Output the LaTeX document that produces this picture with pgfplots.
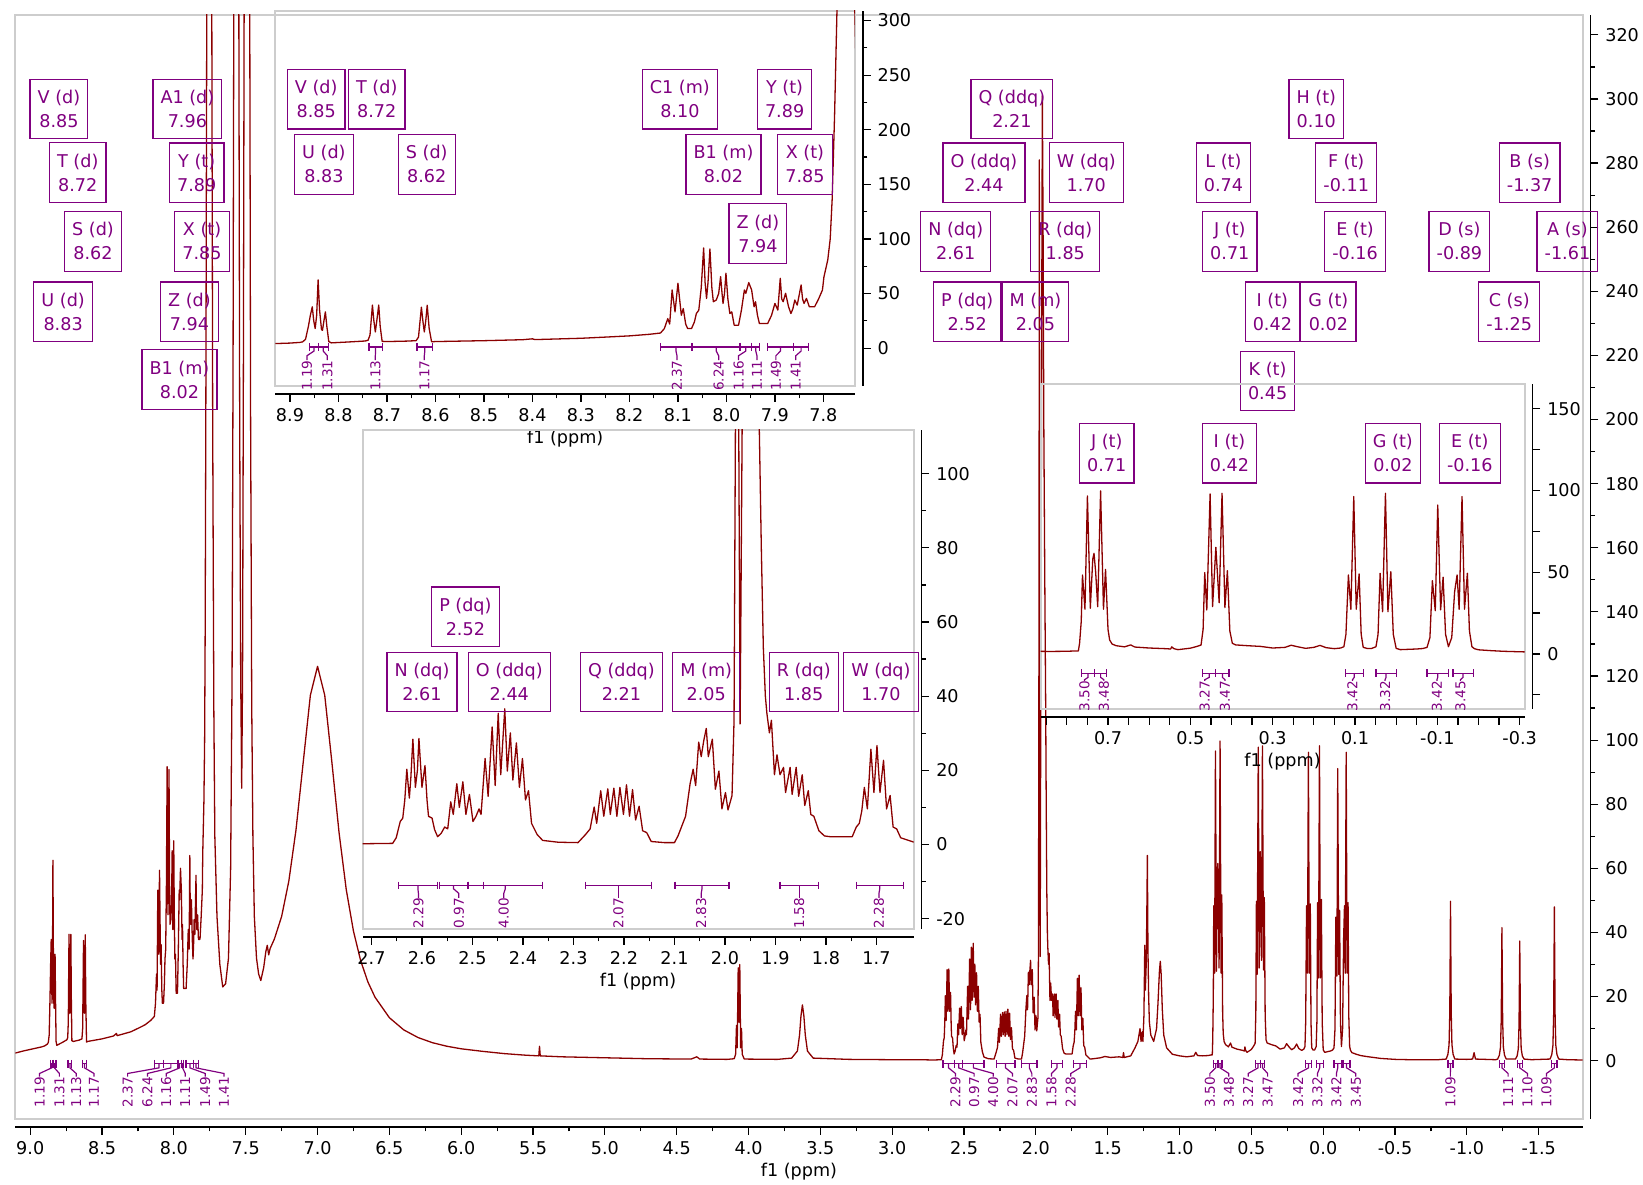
\documentclass[border=0pt]{standalone}
\usepackage{fontspec}
\setmainfont{DejaVu Sans}
\usepackage{pgfplots}
\usepackage{pgfplotstable}
\pgfplotsset{compat=1.18}
\definecolor{specred}{RGB}{139,0,0}
\definecolor{lblpurple}{RGB}{128,0,128}
\definecolor{framegray}{RGB}{205,205,205}

\pgfplotstableread{
x y
9.11 2.3
9.05 3.0
9.00 3.5
8.95 4.0
8.92 4.3
8.90 4.6
8.88 5.2
8.874 5.7
8.868 8
8.862 20
8.858 30
8.854 37.8
8.851 25
8.848 17.9
8.845 30
8.842 62.5
8.839 35
8.835 17
8.833 16.3
8.830 25
8.827 33.2
8.824 20
8.820 6
8.815 4.8
8.78 5.6
8.745 6.5
8.739 7.2
8.735 12
8.730 39.4
8.727 25
8.724 14.8
8.721 25
8.717 39.4
8.714 20
8.710 6.2
8.70 6.0
8.66 6.4
8.64 6.8
8.635 10
8.629 37.5
8.626 25
8.623 14.8
8.620 25
8.617 39.3
8.613 18
8.608 5.8
8.60 6.0
8.50 6.8
8.42 7.7
8.40 8.5
8.395 7.8
8.30 9.0
8.244 10.2
8.20 11.2
8.16 12.6
8.136 13.8
8.128 17.9
8.121 27
8.117 22
8.112 53.2
8.106 33.2
8.100 59.4
8.093 30.1
8.089 36.2
8.084 22
8.080 17.9
8.072 17.9
8.066 24
8.062 31.7
8.057 34.7
8.052 55
8.047 91.7
8.044 60
8.041 45.5
8.038 60
8.034 90.8
8.030 55
8.027 42.5
8.021 44.0
8.016 50
8.012 65.5
8.009 50
8.007 40.9
8.004 50
8.001 68.6
7.997 45
7.993 31.7
7.989 33.2
7.984 21.0
7.975 21.0
7.969 35
7.963 53.2
7.960 50.2
7.954 60
7.948 53.2
7.943 37.8
7.940 42.5
7.936 30
7.932 22.5
7.915 22.5
7.907 30
7.900 40.9
7.894 34.8
7.889 64
7.886 45
7.883 42.5
7.878 50.2
7.872 38
7.867 31.7
7.863 36
7.859 44
7.854 39.4
7.846 57.8
7.843 45
7.840 40.9
7.835 45.5
7.829 37.8
7.822 37.8
7.818 38
7.810 45
7.802 53.2
7.799 65
7.791 80.9
7.786 100
7.782 136
7.777 213
7.772 310
7.765 600
7.752 900
7.740 600
7.736 326
7.730 200
7.722 110
7.715 70
7.70 45
7.68 30
7.66 23
7.64 24
7.62 32
7.605 60
7.595 120
7.588 220
7.583 330
7.565 900
7.548 330
7.542 200
7.535 120
7.528 85
7.522 120
7.516 220
7.511 330
7.49 900
7.472 330
7.466 200
7.458 110
7.45 70
7.44 45
7.425 32
7.41 27
7.395 25
7.375 29
7.36 34
7.35 36
7.34 33
7.33 35
7.30 38
7.25 45
7.20 56
7.15 72
7.10 93
7.05 114
7.00 123
6.95 114
6.90 93
6.85 71
6.80 53.3
6.75 40.4
6.70 31.2
6.65 24.6
6.60 19.8
6.50 13.4
6.40 9.6
6.30 7.2
6.20 5.6
6.10 4.5
6.00 3.7
5.85 2.9
5.70 2.2
5.55 1.7
5.46 1.5
5.455 4.5
5.45 1.5
5.30 1.2
5.00 0.9
4.70 0.6
4.40 0.5
4.36 1.2
4.34 0.5
4.15 0.4
4.10 0.6
4.09 2
4.084 11
4.079 4
4.072 29
4.067 12
4.061 30
4.055 4
4.049 10
4.044 2
4.03 0.5
3.80 0.4
3.70 0.8
3.66 3
3.645 8
3.635 14
3.625 17.4
3.615 14
3.605 8
3.59 3
3.55 0.8
3.30 0.4
3.00 0.3
2.80 0.3
2.715 0.2
2.658 0.3
2.651 1.8
2.643 6.2
2.638 7.1
2.634 12
2.630 20.3
2.625 12.5
2.622 18
2.618 28.4
2.613 15.4
2.609 20
2.606 28.6
2.600 15.4
2.594 21.3
2.590 12
2.587 7.6
2.580 7.1
2.575 4
2.569 2.1
2.562 3
2.555 4.7
2.549 4.2
2.543 11.5
2.538 8.1
2.531 16.4
2.526 10.0
2.519 16.9
2.513 8.1
2.506 13.5
2.499 6.2
2.493 7.6
2.487 9.6
2.483 8.1
2.475 23.2
2.469 13.0
2.461 31.7
2.455 15.9
2.449 35.4
2.444 18.8
2.436 36.6
2.431 19.8
2.425 30.1
2.420 17.4
2.413 27.4
2.407 15.4
2.401 23.2
2.395 12.0
2.389 14.5
2.383 5.7
2.372 2.7
2.361 1.1
2.33 0.6
2.291 0.5
2.276 2.7
2.267 4.2
2.259 10.1
2.254 5.7
2.246 14.5
2.240 7.6
2.232 15.0
2.227 8.1
2.220 15.2
2.214 7.6
2.208 15.4
2.201 8.1
2.195 16.1
2.189 7.6
2.183 14.8
2.177 6.6
2.170 10.3
2.163 3.7
2.155 3.2
2.146 0.8
2.12 0.5
2.100 0.5
2.093 2.3
2.078 7.6
2.069 16.4
2.063 20.3
2.058 15.9
2.052 27.6
2.047 23.7
2.042 28
2.037 31.3
2.033 23.7
2.025 28.4
2.019 14.9
2.012 19.8
2.006 9.6
1.999 14.0
1.994 9.3
1.986 13.2
1.982 33.5
1.978 150
1.976 281
1.974 150
1.970 32.5
1.966 112
1.960 220
1.955 301
1.950 260
1.945 200
1.938 150
1.932 112
1.928 80
1.924 53
1.920 40
1.917 35.4
1.912 30.1
1.908 33.5
1.902 18.8
1.897 24.2
1.891 18.8
1.884 20.8
1.880 14.0
1.871 20.8
1.867 13.5
1.859 20.8
1.854 13
1.847 18.8
1.842 10.5
1.835 14.5
1.830 8.1
1.824 7.6
1.814 3.7
1.803 2.3
1.792 2.1
1.748 2.1
1.740 4.7
1.734 5.7
1.729 9.1
1.724 15.4
1.718 9.6
1.711 25.7
1.705 14
1.699 26.7
1.693 14
1.686 22.7
1.680 9.6
1.673 13.2
1.667 4.7
1.660 4.2
1.652 1.8
1.623 0.5
1.60 0.6
1.55 0.9
1.52 1.3
1.48 1.0
1.42 1.2
1.395 1.0
1.39 2.5
1.385 1.0
1.34 1.5
1.31 4.0
1.29 6
1.275 10
1.268 6
1.26 9
1.255 6
1.248 14
1.242 36
1.238 22
1.232 30
1.228 45
1.224 64
1.220 35
1.215 20
1.21 12
1.20 8
1.18 6
1.16 10
1.15 18
1.14 28
1.134 31
1.128 27
1.12 16
1.11 8
1.09 4
1.05 2
1.00 1.5
0.95 1.2
0.90 1.5
0.887 2.6
0.875 1.6
0.84 1.5
0.80 1.6
0.78 1.8
0.772 1.8
0.769 6.6
0.765 20
0.762 48.3
0.756 27.3
0.750 96.6
0.743 27.9
0.737 58
0.734 61.5
0.730 50
0.725 28.9
0.718 99.7
0.711 27.3
0.706 51.7
0.700 15
0.696 8.5
0.69 6
0.68 5
0.665 4.5
0.66 4.3
0.645 5.5
0.635 4.2
0.60 3.6
0.56 3.2
0.548 3.0
0.545 4.3
0.540 3.2
0.53 2.6
0.50 3.5
0.485 4.5
0.474 5.4
0.469 15
0.465 49.7
0.460 26.9
0.452 97.8
0.446 28.9
0.438 65.2
0.430 31.3
0.423 98.2
0.416 28.3
0.410 50.9
0.404 14
0.398 6.5
0.39 5.5
0.36 5.0
0.33 4.6
0.30 3.6
0.27 4.0
0.255 5.3
0.24 4.4
0.22 3.4
0.20 4
0.185 5.2
0.17 3.8
0.15 3.2
0.135 3.6
0.127 4.4
0.122 12
0.116 48.3
0.110 27.3
0.103 96.2
0.097 27.3
0.090 48.9
0.085 12
0.080 4.0
0.07 3.3
0.06 3.3
0.049 4.4
0.044 12
0.039 49.3
0.033 25.8
0.026 98.2
0.020 25.8
0.013 50.3
0.007 12
0.000 3.4
-0.010 2.6
-0.03 2.8
-0.05 3.0
-0.065 3.3
-0.075 4.0
-0.082 10
-0.088 44.8
-0.095 26.4
-0.101 91.1
-0.108 26.9
-0.114 46.9
-0.120 12
-0.127 4.4
-0.135 10
-0.142 38
-0.148 48.3
-0.153 27.3
-0.160 96.2
-0.166 27.3
-0.173 49.3
-0.178 14
-0.184 4.4
-0.19 3.2
-0.20 2.5
-0.23 2.0
-0.26 1.6
-0.30 1.3
-0.35 1.0
-0.40 0.7
-0.50 0.4
-0.60 0.3
-0.80 0.3
-0.856 0.5
-0.868 2
-0.876 5
-0.881 15
-0.884 35
-0.886 49.7
-0.888 35
-0.891 15
-0.896 5
-0.904 2
-0.916 0.5
-1.00 0.4
-1.04 0.5
-1.05 2.5
-1.06 0.5
-1.20 0.3
-1.214 0.5
-1.226 1.7
-1.234 4.2
-1.239 12.5
-1.242 29
-1.244 41.5
-1.246 29
-1.249 12.5
-1.254 4.2
-1.262 1.7
-1.274 0.5
-1.338 0.5
-1.350 1.5
-1.358 3.7
-1.363 11.2
-1.366 26
-1.368 37.3
-1.370 26
-1.373 11.2
-1.378 3.7
-1.386 1.5
-1.398 0.5
-1.45 0.3
-1.579 0.5
-1.591 1.9
-1.599 4.8
-1.604 14.4
-1.607 33.6
-1.609 48
-1.611 33.6
-1.614 14.4
-1.619 4.8
-1.627 1.9
-1.639 0.5
-1.70 0.3
-1.81 0.2
}\spec

\pgfplotsset{
  nmr/.style={
    scale only axis, x dir=reverse, clip mode=individual,
    axis x line*=bottom, axis y line*=right,
    axis x line shift=4pt, axis y line shift=4pt,
    axis line style={black, line width=0.7pt},
    tick align=outside, major tick length=3.8pt, minor tick length=2.2pt,
    every tick/.style={black, line width=0.6pt},
    tick label style={font=\fontsize{8.8}{10}\selectfont},
    scaled ticks=false,
    /pgf/number format/assume math mode=true,
    xticklabel style={/pgf/number format/fixed, /pgf/number format/fixed zerofill, /pgf/number format/precision=1},
    yticklabel style={/pgf/number format/fixed, /pgf/number format/precision=0},
    xlabel={f1 (ppm)},
    xlabel style={at={(rel axis cs:0.5,0)}, anchor=center, yshift=-26.3pt, font=\fontsize{8.8}{10}\selectfont},
  },
  spec/.style={color=specred, line width=0.65pt, line join=round, no markers},
}
\tikzset{lbl/.style={draw=lblpurple, text=lblpurple, line width=0.6pt, align=center,
    font=\fontsize{8.8}{12}\selectfont, inner xsep=3.8pt, inner ysep=5.5pt},
  intg/.style={draw=lblpurple, line width=0.6pt},
  ilab/.style={text=lblpurple, font=\fontsize{6.8}{8}\selectfont, rotate=90, anchor=east, inner sep=0pt},
  gframe/.style={draw=framegray, line width=1pt}}

% #1 start, #2 end, #3 centre, #4 label x, #5 text
\newcommand\integ[5]{%
  \draw[intg] (axis cs:#1,\yb) -- (axis cs:#2,\yb);
  \draw[intg] (axis cs:#1,\ytA) -- (axis cs:#1,\ytB);
  \draw[intg] (axis cs:#2,\ytA) -- (axis cs:#2,\ytB);
  \draw[intg] (axis cs:#3,\yb) -- (axis cs:#3,\yone) -- (axis cs:#4,\ytwo) -- (axis cs:#4,\ylab);
  \node[ilab] at (axis cs:#4,\ylab) {#5};
}

\begin{document}
\begin{tikzpicture}
\useasboundingbox (0pt,0pt) rectangle (821.5pt,592pt);

% ---------------- main axis ----------------
\def\yb{-1}\def\ytA{0.25}\def\ytB{-2.25}\def\yone{-2.25}\def\ytwo{-4}\def\ylab{-5}
\begin{axis}[nmr, at={(7.65pt,32.5pt)}, anchor=south west,
  width=783.7pt, height=552pt,
  xmin=-1.806, xmax=9.104, ymin=-18.2, ymax=326.2,
  xtick={-1.5,-1,-0.5,0,0.5,1,1.5,2,2.5,3,3.5,4,4.5,5,5.5,6,6.5,7,7.5,8,8.5,9},
  minor x tick num=1,
  ytick={0,20,...,320}, minor y tick num=1,
]
\draw[gframe] (rel axis cs:0,0) rectangle (rel axis cs:1,1);
\addplot[spec] table {\spec};
\integ{8.859}{8.842}{8.8505}{8.935}{1.19}
\integ{8.842}{8.821}{8.8315}{8.797}{1.31}
\integ{8.737}{8.710}{8.7235}{8.680}{1.13}
\integ{8.638}{8.606}{8.622}{8.556}{1.17}
\integ{8.136}{8.072}{8.104}{8.322}{2.37}
\integ{8.070}{7.972}{8.021}{8.184}{6.24}
\integ{7.972}{7.948}{7.960}{8.053}{1.16}
\integ{7.948}{7.931}{7.9395}{7.921}{1.11}
\integ{7.916}{7.861}{7.8885}{7.782}{1.49}
\integ{7.861}{7.831}{7.846}{7.651}{1.41}
\integ{2.647}{2.569}{2.608}{2.560}{2.29}
\integ{2.566}{2.509}{2.5375}{2.430}{0.97}
\integ{2.509}{2.361}{2.435}{2.297}{4.00}
\integ{2.276}{2.146}{2.211}{2.163}{2.07}
\integ{2.099}{1.992}{2.0455}{2.028}{2.83}
\integ{1.891}{1.815}{1.853}{1.891}{1.58}
\integ{1.740}{1.647}{1.6935}{1.757}{2.28}
\integ{0.765}{0.732}{0.7485}{0.789}{3.50}
\integ{0.732}{0.704}{0.718}{0.657}{3.48}
\integ{0.470}{0.438}{0.454}{0.522}{3.27}
\integ{0.438}{0.406}{0.422}{0.387}{3.47}
\integ{0.124}{0.080}{0.102}{0.175}{3.42}
\integ{0.049}{0.000}{0.0245}{0.040}{3.32}
\integ{-0.075}{-0.127}{-0.101}{-0.092}{3.42}
\integ{-0.138}{-0.187}{-0.1625}{-0.227}{3.45}
\integ{-0.868}{-0.904}{-0.886}{-0.885}{1.09}
\integ{-1.226}{-1.262}{-1.244}{-1.287}{1.11}
\integ{-1.350}{-1.386}{-1.368}{-1.422}{1.10}
\integ{-1.591}{-1.627}{-1.609}{-1.554}{1.09}
\node[lbl] at (axis cs:8.800,296.9) {V (d)\\8.85};
\node[lbl] at (axis cs:8.669,277) {T (d)\\8.72};
\node[lbl] at (axis cs:8.563,255.6) {S (d)\\8.62};
\node[lbl] at (axis cs:8.771,233.6) {U (d)\\8.83};
\node[lbl] at (axis cs:7.906,296.9) {A1 (d)\\7.96};
\node[lbl] at (axis cs:7.841,277) {Y (t)\\7.89};
\node[lbl] at (axis cs:7.804,255.6) {X (t)\\7.85};
\node[lbl] at (axis cs:7.892,233.6) {Z (d)\\7.94};
\node[lbl] at (axis cs:7.961,212.5) {B1 (m)\\8.02};
\node[lbl] at (axis cs:2.167,296.9) {Q (ddq)\\2.21};
\node[lbl] at (axis cs:2.361,277) {O (ddq)\\2.44};
\node[lbl] at (axis cs:1.649,277) {W (dq)\\1.70};
\node[lbl] at (axis cs:2.558,255.6) {N (dq)\\2.61};
\node[lbl] at (axis cs:1.795,255.6) {R (dq)\\1.85};
\node[lbl] at (axis cs:2.478,233.6) {P (dq)\\2.52};
\node[lbl] at (axis cs:2.003,233.6) {M (m)\\2.05};
\node[lbl] at (axis cs:0.048,296.9) {H (t)\\0.10};
\node[lbl] at (axis cs:0.694,277) {L (t)\\0.74};
\node[lbl] at (axis cs:-0.160,277) {F (t)\\-0.11};
\node[lbl] at (axis cs:-1.437,277) {B (s)\\-1.37};
\node[lbl] at (axis cs:0.650,255.6) {J (t)\\0.71};
\node[lbl] at (axis cs:-0.222,255.6) {E (t)\\-0.16};
\node[lbl] at (axis cs:-0.948,255.6) {D (s)\\-0.89};
\node[lbl] at (axis cs:-1.700,255.6) {A (s)\\-1.61};
\node[lbl] at (axis cs:0.354,233.6) {I (t)\\0.42};
\node[lbl] at (axis cs:-0.036,233.6) {G (t)\\0.02};
\node[lbl] at (axis cs:-1.295,233.6) {C (s)\\-1.25};
\node[lbl] at (axis cs:0.387,212) {K (t)\\0.45};
\end{axis}

% ---------------- inset 1 (aromatic) ----------------
\def\yb{1}\def\ytA{4.7}\def\ytB{-2.7}\def\yone{-2.7}\def\ytwo{-7}\def\ylab{-11}
\begin{axis}[nmr, at={(137.75pt,399pt)}, anchor=south west,
  width=289.75pt, height=187.7pt,
  xmin=7.735, xmax=8.930, ymin=-34.7, ymax=309.1,
  xtick={7.8,7.9,8.0,8.1,8.2,8.3,8.4,8.5,8.6,8.7,8.8,8.9},
  minor x tick num=1,
  ytick={0,50,...,300}, minor y tick num=1,
]
\draw[gframe] (rel axis cs:0,0) rectangle (rel axis cs:1,1);
\addplot[spec] table {\spec};
\integ{8.859}{8.842}{8.8505}{8.865}{1.19}
\integ{8.842}{8.821}{8.8315}{8.823}{1.31}
\integ{8.737}{8.710}{8.7235}{8.724}{1.13}
\integ{8.638}{8.606}{8.622}{8.623}{1.17}
\integ{8.136}{8.072}{8.104}{8.102}{2.37}
\integ{8.070}{7.972}{8.021}{8.016}{6.24}
\integ{7.972}{7.948}{7.960}{7.975}{1.16}
\integ{7.948}{7.931}{7.9395}{7.937}{1.11}
\integ{7.916}{7.861}{7.8885}{7.898}{1.49}
\integ{7.861}{7.831}{7.846}{7.857}{1.41}
\node[lbl] at (axis cs:8.846,227.9) {V (d)\\8.85};
\node[lbl] at (axis cs:8.721,227.9) {T (d)\\8.72};
\node[lbl] at (axis cs:8.830,168.3) {U (d)\\8.83};
\node[lbl] at (axis cs:8.618,168.3) {S (d)\\8.62};
\node[lbl] at (axis cs:8.096,227.9) {C1 (m)\\8.10};
\node[lbl] at (axis cs:7.880,227.9) {Y (t)\\7.89};
\node[lbl] at (axis cs:8.006,168.3) {B1 (m)\\8.02};
\node[lbl] at (axis cs:7.838,168.3) {X (t)\\7.85};
\node[lbl] at (axis cs:7.935,104.8) {Z (d)\\7.94};
\end{axis}

% ---------------- inset 2 (aliphatic) ----------------
\def\yb{-11}\def\ytA{-10.05}\def\ytB{-11.95}\def\yone{-11.95}\def\ytwo{-13.2}\def\ylab{-14.4}
\begin{axis}[nmr, at={(181.3pt,127.5pt)}, anchor=south west,
  width=275.5pt, height=249.7pt,
  xmin=1.6265, xmax=2.7176, ymin=-22.8, ymax=111.9,
  xtick={1.7,1.8,1.9,2.0,2.1,2.2,2.3,2.4,2.5,2.6,2.7},
  minor x tick num=1,
  ytick={-20,0,...,100}, minor y tick num=1,
]
\draw[gframe] (rel axis cs:0,0) rectangle (rel axis cs:1,1);
\addplot[spec] table {\spec};
\integ{2.647}{2.569}{2.608}{2.607}{2.29}
\integ{2.566}{2.509}{2.5375}{2.527}{0.97}
\integ{2.509}{2.361}{2.435}{2.438}{4.00}
\draw[intg] (axis cs:2.478,\ytA) -- (axis cs:2.478,\ytB);
\integ{2.276}{2.146}{2.211}{2.211}{2.07}
\integ{2.099}{1.992}{2.0455}{2.047}{2.83}
\integ{1.891}{1.815}{1.853}{1.853}{1.58}
\integ{1.740}{1.647}{1.6935}{1.695}{2.28}
\node[lbl] at (axis cs:2.514,61.4) {P (dq)\\2.52};
\node[lbl] at (axis cs:2.600,43.8) {N (dq)\\2.61};
\node[lbl] at (axis cs:2.427,43.8) {O (ddq)\\2.44};
\node[lbl] at (axis cs:2.205,43.8) {Q (ddq)\\2.21};
\node[lbl] at (axis cs:2.037,43.8) {M (m)\\2.05};
\node[lbl] at (axis cs:1.844,43.8) {R (dq)\\1.85};
\node[lbl] at (axis cs:1.691,43.8) {W (dq)\\1.70};
\end{axis}

% ---------------- inset 3 (high field) ----------------
\def\yb{-11.9}\def\ytA{-9.45}\def\ytB{-14.35}\def\yone{-14.35}\def\ytwo{-15.8}\def\ylab{-16.5}
\begin{axis}[nmr, at={(520.25pt,237.5pt)}, anchor=south west,
  width=242.05pt, height=162.35pt,
  xmin=-0.312, xmax=0.864, ymin=-33.7, ymax=164.9,
  xtick={-0.3,-0.1,0.1,0.3,0.5,0.7},
  minor xtick={-0.25,-0.2,-0.15,-0.05,0,0.05,0.15,0.2,0.25,0.35,0.4,0.45,0.55,0.6,0.65,0.75,0.8,0.85},
  minor tick length=3.8pt,
  ytick={0,50,100,150}, minor ytick={-25,25,75,125},
]
\draw[gframe] (rel axis cs:0,0) rectangle (rel axis cs:1,1);
\addplot[spec] table {\spec};
\integ{0.765}{0.732}{0.7485}{0.757}{3.50}
\integ{0.732}{0.704}{0.718}{0.710}{3.48}
\integ{0.470}{0.438}{0.454}{0.465}{3.27}
\integ{0.438}{0.406}{0.422}{0.416}{3.47}
\integ{0.124}{0.080}{0.102}{0.106}{3.42}
\integ{0.049}{0.000}{0.0245}{0.027}{3.32}
\integ{-0.075}{-0.127}{-0.101}{-0.099}{3.42}
\integ{-0.138}{-0.187}{-0.1625}{-0.156}{3.45}
\node[lbl] at (axis cs:0.703,122.8) {J (t)\\0.71};
\node[lbl] at (axis cs:0.405,122.8) {I (t)\\0.42};
\node[lbl] at (axis cs:0.008,122.8) {G (t)\\0.02};
\node[lbl] at (axis cs:-0.179,122.8) {E (t)\\-0.16};
\end{axis}
\end{tikzpicture}
\end{document}
